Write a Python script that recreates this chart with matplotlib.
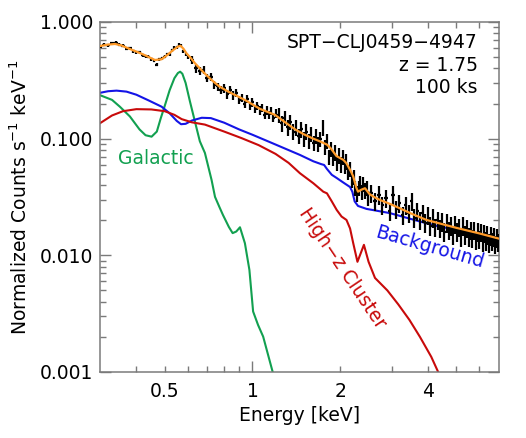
import numpy as np
import matplotlib
matplotlib.use("Agg")
import matplotlib.pyplot as plt
from matplotlib.ticker import FixedLocator, FuncFormatter, NullFormatter

# ---- model curves (energy in keV, normalized counts s^-1 keV^-1) ----
gal_e = [0.30, 0.33, 0.351, 0.38, 0.41, 0.43, 0.451, 0.47, 0.485, 0.50, 0.52, 0.54,
         0.555, 0.565, 0.575, 0.59, 0.61, 0.635, 0.66, 0.687, 0.724, 0.744, 0.77,
         0.792, 0.83, 0.855, 0.88, 0.906, 0.942, 0.976, 1.005, 1.045, 1.088, 1.173, 1.21]
gal_y = [0.236, 0.215, 0.188, 0.155, 0.120, 0.107, 0.104, 0.115, 0.15, 0.19, 0.26, 0.33,
         0.365, 0.375, 0.36, 0.30, 0.21, 0.14, 0.095, 0.0754, 0.0443, 0.0317, 0.026,
         0.0222, 0.0175, 0.0155, 0.016, 0.0174, 0.0127, 0.0075, 0.0033, 0.00253, 0.00201, 0.0010, 0.0008]

bkg_e = [0.30, 0.32, 0.342, 0.37, 0.40, 0.44, 0.488, 0.52, 0.55, 0.569, 0.59, 0.62, 0.67,
         0.72, 0.80, 0.90, 1.0, 1.194, 1.455, 1.616, 1.72, 1.76, 1.80, 1.87, 1.944, 2.05,
         2.16, 2.20, 2.24, 2.30, 2.46, 2.96, 3.95, 4.39, 5.5, 7.0]
bkg_y = [0.247, 0.255, 0.258, 0.253, 0.238, 0.213, 0.188, 0.165, 0.142, 0.133, 0.134, 0.143, 0.151,
         0.150, 0.137, 0.120, 0.108, 0.0895, 0.0725, 0.064, 0.0605, 0.0595, 0.055, 0.049, 0.046, 0.042,
         0.0385, 0.035, 0.029, 0.0265, 0.0250, 0.0230, 0.0188, 0.0176, 0.0158, 0.0141]

clu_e = [0.30, 0.33, 0.36, 0.40, 0.45, 0.50, 0.54, 0.572, 0.62, 0.687, 0.80, 0.918, 1.05,
         1.20, 1.33, 1.455, 1.616, 1.749, 1.80, 1.87, 1.944, 2.02, 2.10, 2.16, 2.215, 2.29,
         2.41, 2.50, 2.63, 2.9, 3.16, 3.45, 3.75, 4.1, 4.33, 4.5]
clu_y = [0.1355, 0.158, 0.172, 0.179, 0.178, 0.172, 0.160, 0.147, 0.138, 0.132, 0.115, 0.101, 0.088,
         0.074, 0.062, 0.0505, 0.0415, 0.0351, 0.034, 0.029, 0.0245, 0.0215, 0.0201, 0.017, 0.0127, 0.0088,
         0.0123, 0.0088, 0.0064, 0.0050, 0.0038, 0.0028, 0.0020, 0.00135, 0.0010, 0.0008]

tot_e = [0.30, 0.32, 0.338, 0.355, 0.375, 0.42, 0.463, 0.488, 0.51, 0.535, 0.555, 0.567, 0.58,
         0.594, 0.615, 0.635, 0.68, 0.724, 0.77, 0.826, 0.942, 1.061, 1.194, 1.30, 1.40, 1.50,
         1.616, 1.70, 1.80, 1.86, 1.94, 2.05, 2.10, 2.17, 2.215, 2.27, 2.30, 2.36, 2.43,
         2.52, 2.6, 2.736, 2.96, 3.2, 3.5, 3.95, 5.0, 6.0, 7.0]
tot_y = [0.622, 0.64, 0.648, 0.63, 0.595, 0.53, 0.4725, 0.479, 0.52, 0.575, 0.615, 0.625, 0.59,
         0.539, 0.49, 0.443, 0.37, 0.3185, 0.28, 0.253, 0.2147, 0.180, 0.160, 0.137, 0.120, 0.109,
         0.100, 0.095, 0.089, 0.082, 0.071, 0.0657, 0.0615, 0.053, 0.0475, 0.038, 0.0351, 0.0365, 0.0376,
         0.0335, 0.0318, 0.0298, 0.0276, 0.0253, 0.0228, 0.0201, 0.0172, 0.0154, 0.0139]

# ---- simulated spectrum data points ----
dat_e = [0.30, 0.31, 0.32, 0.33, 0.34, 0.35, 0.36, 0.37, 0.38, 0.39, 0.40, 0.41, 0.42, 0.43, 0.44,
         0.45, 0.46, 0.47, 0.48, 0.49, 0.50, 0.51, 0.52, 0.53, 0.54, 0.55, 0.56, 0.57, 0.58, 0.59, 0.60,
         0.62, 0.64, 0.66, 0.68, 0.70, 0.72, 0.74, 0.76, 0.78, 0.80, 0.82, 0.84, 0.86, 0.88, 0.90,
         0.92, 0.94, 0.96, 0.98, 1.00, 1.02, 1.04, 1.06, 1.08, 1.10, 1.12, 1.14, 1.16, 1.18, 1.20,
         1.23, 1.26, 1.29, 1.32, 1.35, 1.38, 1.41, 1.44, 1.47, 1.50, 1.53, 1.56, 1.59, 1.62, 1.65,
         1.68, 1.71, 1.74, 1.77, 1.80, 1.83, 1.86, 1.89, 1.92, 1.95, 1.98, 2.01, 2.04, 2.07, 2.10,
         2.13, 2.16, 2.19, 2.22, 2.25, 2.28, 2.31, 2.34, 2.37, 2.40, 2.43, 2.46, 2.49,
         2.55, 2.63, 2.71, 2.79, 2.87, 2.95, 3.03, 3.11, 3.19, 3.27, 3.35, 3.43, 3.51, 3.59, 3.67,
         3.75, 3.83, 3.91, 3.99, 4.07, 4.15, 4.23, 4.31, 4.39, 4.47, 4.55, 4.63, 4.71, 4.79, 4.87,
         4.95, 5.03, 5.11, 5.19, 5.27, 5.35, 5.43, 5.51, 5.59, 5.67, 5.75, 5.83, 5.91, 5.99, 6.07,
         6.15, 6.23, 6.31, 6.39, 6.47, 6.55, 6.63, 6.71, 6.79, 6.87, 6.95]
dat_y = [0.615, 0.64, 0.63, 0.655, 0.665, 0.64, 0.625, 0.59, 0.595, 0.56, 0.55, 0.55, 0.52, 0.51, 0.505,
         0.48, 0.465, 0.43, 0.48, 0.49, 0.505, 0.53, 0.53, 0.57, 0.60, 0.61, 0.64, 0.625, 0.56, 0.53, 0.50,
         0.47, 0.40, 0.38, 0.39, 0.33, 0.34, 0.29, 0.28, 0.26, 0.27, 0.24, 0.26, 0.235, 0.245, 0.215,
         0.225, 0.20, 0.22, 0.19, 0.205, 0.18, 0.19, 0.175, 0.185, 0.16, 0.175, 0.16, 0.172, 0.15, 0.165,
         0.16, 0.135, 0.15, 0.125, 0.14, 0.115, 0.125, 0.105, 0.12, 0.10, 0.115, 0.095, 0.11, 0.092, 0.105,
         0.09, 0.10, 0.125, 0.085, 0.095, 0.07, 0.082, 0.068, 0.076, 0.062, 0.072, 0.06, 0.07, 0.058, 0.064,
         0.052, 0.055, 0.044, 0.047, 0.038, 0.034, 0.038, 0.042, 0.035, 0.041, 0.036, 0.038, 0.031,
         0.034, 0.029, 0.033, 0.027, 0.031, 0.024, 0.033, 0.025, 0.028, 0.022, 0.027, 0.023, 0.029, 0.021, 0.024,
         0.020, 0.023, 0.019, 0.022, 0.018, 0.021, 0.0175, 0.020, 0.017, 0.0195, 0.016, 0.019, 0.0165, 0.018, 0.015,
         0.0185, 0.016, 0.0175, 0.0145, 0.018, 0.015, 0.017, 0.0145, 0.0165, 0.014, 0.0165, 0.0135, 0.016, 0.0138, 0.0158,
         0.013, 0.0155, 0.0133, 0.015, 0.0128, 0.0148, 0.0132, 0.0145, 0.0125, 0.0142, 0.013]
# fractional 1-sigma errors and half bin widths for the four energy ranges
rel_err = [0.03] * 31 + [0.08] * 30 + [0.15] * 43 + [0.18] * 56
half_bin = [0.005] * 31 + [0.01] * 30 + [0.015] * 43 + [0.04] * 56

dat_e = np.array(dat_e)
dat_y = np.array(dat_y)
yerr = dat_y * np.array(rel_err)

c_gal = "#12a050"
c_bkg = "#1414e6"
c_clu = "#c80a0a"
c_tot = "#ff9a28"
grey = "#7a7a7a"

fig = plt.figure(figsize=(5.26, 4.38), dpi=100)
ax = fig.add_axes([0.190, 0.1507, 0.7587, 0.7991])

ax.errorbar(dat_e, dat_y, yerr=yerr, xerr=half_bin, fmt="none", ecolor="black",
            elinewidth=1.6, capsize=0, zorder=3)
ax.plot(tot_e, tot_y, color=c_tot, lw=1.6, zorder=4)
ax.plot(gal_e, gal_y, color=c_gal, lw=1.5, zorder=2)
ax.plot(bkg_e, bkg_y, color=c_bkg, lw=1.5, zorder=2)
ax.plot(clu_e, clu_y, color=c_clu, lw=1.5, zorder=2)

ax.set_xscale("log")
ax.set_yscale("log")
ax.set_xlim(0.3, 7.0)
ax.set_ylim(0.001, 1.0)

ax.xaxis.set_major_locator(FixedLocator([1.0]))
ax.xaxis.set_major_formatter(FuncFormatter(lambda v, p: "1"))
ax.xaxis.set_minor_locator(FixedLocator([0.4, 0.5, 0.6, 0.7, 0.8, 0.9, 2, 3, 4, 5, 6]))
ax.xaxis.set_minor_formatter(FuncFormatter(
    lambda v, p: {0.5: "0.5", 2.0: "2", 4.0: "4"}.get(round(v, 1), "")))

ax.yaxis.set_major_locator(FixedLocator([0.001, 0.01, 0.1, 1.0]))
ax.yaxis.set_major_formatter(FuncFormatter(lambda v, p: "%.3f" % v))
ax.yaxis.set_minor_locator(FixedLocator([m * d for d in (0.001, 0.01, 0.1) for m in range(2, 10)]))
ax.yaxis.set_minor_formatter(NullFormatter())

ax.tick_params(which="both", direction="in", top=True, right=True, color=grey,
               labelsize=13.5, width=1)
ax.tick_params(which="major", length=8, pad=5)
ax.tick_params(which="minor", length=4, pad=5)
ax.tick_params(axis="x", which="both", pad=7)
for s in ax.spines.values():
    s.set_color(grey)
    s.set_linewidth(1.1)

ax.set_xlabel("Energy [keV]", fontsize=13.5, labelpad=4)
ax.set_ylabel("Normalized Counts s$^{-1}$ keV$^{-1}$", fontsize=13.5, labelpad=6)

ax.text(0.947, 0.94, "SPT\u2212CLJ0459\u22124947", transform=ax.transAxes,
        ha="right", va="center", fontsize=13.5)
ax.text(0.947, 0.877, "z = 1.75", transform=ax.transAxes,
        ha="right", va="center", fontsize=13.5)
ax.text(0.947, 0.814, "100 ks", transform=ax.transAxes,
        ha="right", va="center", fontsize=13.5)

ax.text(0.467, 0.068, "Galactic", color=c_gal, fontsize=13.5, ha="center", va="center")
ax.text(2.04, 0.0078, "High\u2212z Cluster", color=c_clu, fontsize=13.5,
        ha="center", va="center", rotation=-56, rotation_mode="anchor")
ax.text(4.05, 0.0116, "Background", color=c_bkg, fontsize=13.5,
        ha="center", va="center", rotation=-16, rotation_mode="anchor")

fig.savefig("out.png", dpi=100)
